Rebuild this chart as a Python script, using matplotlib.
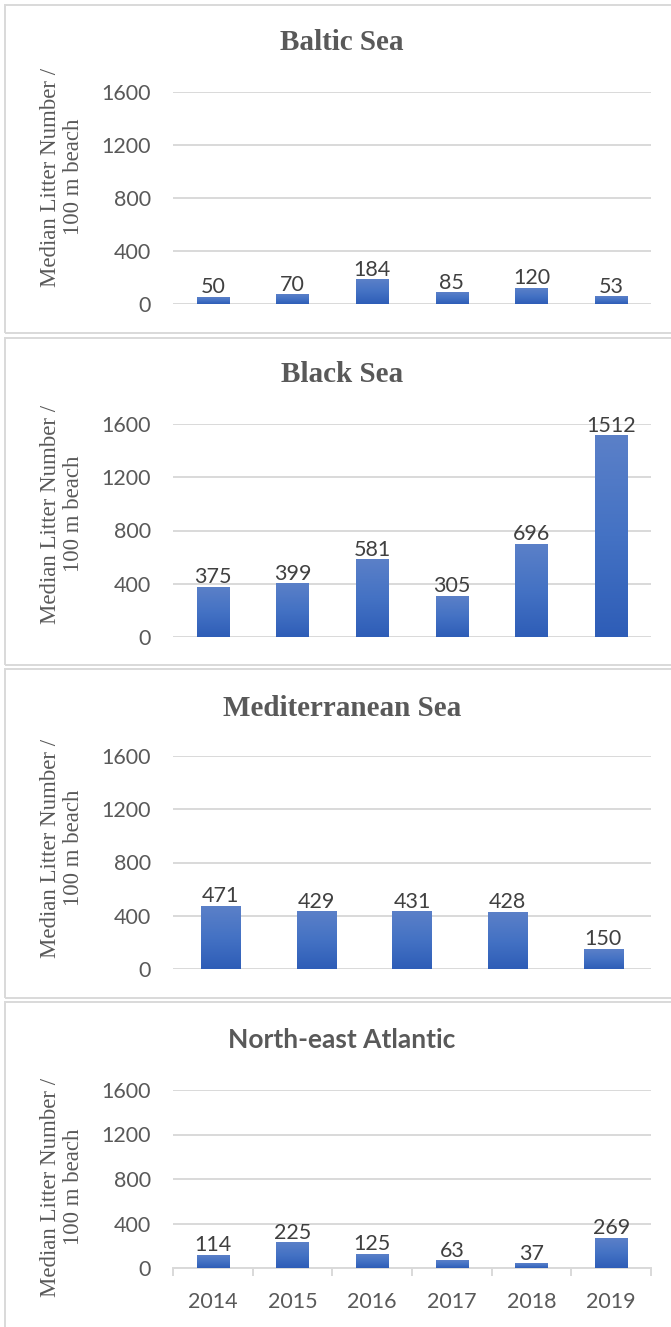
import numpy as np
import matplotlib.pyplot as plt
from matplotlib.patches import Rectangle
from matplotlib.colors import LinearSegmentedColormap

W, H = 671, 1327

years = ["2014", "2015", "2016", "2017", "2018", "2019"]
baltic = [50, 70, 184, 85, 120, 53]
black = [375, 399, 581, 305, 696, 1512]
med = [471, 429, 431, 428, 150]
nea = [114, 225, 125, 63, 37, 269]

titles = ["Baltic Sea", "Black Sea", "Mediterranean Sea", "North-east Atlantic"]
series = [baltic, black, med, nea]
yticks = [0, 400, 800, 1200, 1600]
ylabel = "Median Litter Number /\n100 m beach"

plot_x0, plot_x1 = 173, 651
plot_rows = [(92, 304), (424, 637), (756, 969), (1090, 1268)]
title_y = [43, 375, 708, 1040]
label_y = [177, 514, 848, 1187]
boxes = [(5, 333), (338, 665), (669, 998), (1002, 1340)]

SANS = ["Lato", "DejaVu Sans"]
SERIF = ["Liberation Serif", "DejaVu Serif"]
GRID = "#d9d9d9"

bar_cmap = LinearSegmentedColormap.from_list("bar", ["#2e5db7", "#4472c4", "#5b80c8"])
grad = np.linspace(0, 1, 256).reshape(-1, 1)

fig = plt.figure(figsize=(W / 100, H / 100), dpi=100)


def fx(px):
    return px / W


def fy(py):
    return 1 - py / H


for i, (vals, title) in enumerate(zip(series, titles)):
    top, bot = plot_rows[i]
    ax = fig.add_axes([fx(plot_x0), fy(bot), fx(plot_x1 - plot_x0), (bot - top) / H])
    n = len(vals)
    x = np.arange(n)
    bw = 0.41
    bars = ax.bar(x, vals, width=bw, color="none", zorder=3)
    for b, v in zip(bars, vals):
        x0 = b.get_x()
        ax.imshow(grad, cmap=bar_cmap, extent=[x0, x0 + bw, 0, v], origin="lower",
                  aspect="auto", zorder=3)
        ax.text(b.get_x() + bw / 2, v, str(v), ha="center", va="bottom",
                fontsize=15.5, color="#404040", family=SANS, zorder=4)
    ax.set_xlim(-0.5, n - 0.5)
    ax.set_ylim(0, 1600)
    ax.set_yticks(yticks)
    ax.set_yticklabels([str(t) for t in yticks], family=SANS, fontsize=15.5, color="#595959")
    ax.tick_params(axis="y", length=0, pad=16)
    ax.grid(axis="y", color=GRID, lw=1.4, zorder=0)
    for s in ax.spines.values():
        s.set_visible(False)
    if i == 3:
        ax.spines["bottom"].set_visible(True)
        ax.spines["bottom"].set_color(GRID)
        ax.spines["bottom"].set_linewidth(1.4)
        ax.set_xticks(x)
        ax.set_xticklabels(years, family=SANS, fontsize=15.5, color="#595959")
        ax.set_xticks(np.arange(n + 1) - 0.5, minor=True)
        ax.tick_params(axis="x", which="major", length=0, pad=17)
        ax.tick_params(axis="x", which="minor", length=6, width=1.4, color=GRID)
    else:
        ax.set_xticks([])

    if i == 3:
        fig.text(fx(342), fy(title_y[i]), title, ha="center", va="center",
                 fontsize=19, fontweight="bold", color="#595959", family=SANS)
    else:
        fig.text(fx(342), fy(title_y[i]), title, ha="center", va="center",
                 fontsize=21, fontweight="bold", color="#595959", family=SERIF)
    fig.text(fx(62), fy(label_y[i]), ylabel, rotation=90, ha="center", va="center",
             multialignment="center", fontsize=16.5, color="#595959", family=SERIF,
             linespacing=1.15)

    b0, b1 = boxes[i]
    fig.add_artist(Rectangle((fx(5), fy(b1)), fx(700), (b1 - b0) / H, transform=fig.transFigure,
                             fill=False, edgecolor=GRID, lw=1.4))

fig.savefig("out.png", dpi=100)
